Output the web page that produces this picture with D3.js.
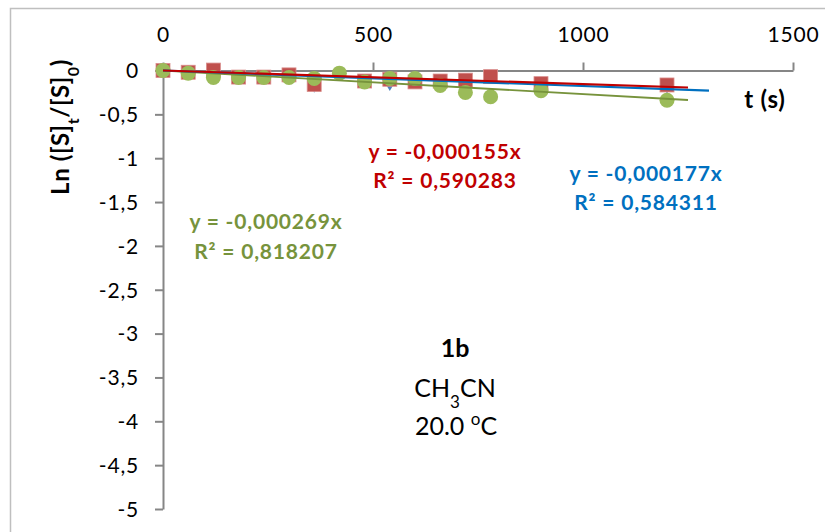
<!DOCTYPE html>
<html><head><meta charset="utf-8">
<script src="https://cdn.jsdelivr.net/npm/d3@7"></script>
<style>
body{margin:0;background:#fff;}
svg{display:block;font-family:Lato,"Open Sans",sans-serif;}
</style></head>
<body>
<script>
const times = [0,60,120,180,240,300,360,420,480,540,600,660,720,780,900,1200];
const redValues   = [0,-0.02,0.005,-0.075,-0.075,-0.05,-0.16,null,-0.12,-0.10,-0.13,-0.12,-0.11,-0.07,-0.15,-0.165];
const blueValues  = [0,-0.02,-0.03,-0.07,-0.08,-0.07,-0.19,-0.05,-0.12,-0.17,-0.12,-0.13,-0.15,-0.09,-0.16,-0.2];
const greenValues = [0,-0.03,-0.08,-0.08,-0.08,-0.08,-0.09,-0.03,-0.13,-0.09,-0.09,-0.17,-0.25,-0.30,-0.23,-0.34];
const slopes = {red:-0.000155, blue:-0.000177, green:-0.000269};
const trendEnds = {red:1250, blue:1300, green:1250};
const xTicks = [0,500,1000,1500];
const yTicks = [0,-0.5,-1,-1.5,-2,-2.5,-3,-3.5,-4,-4.5,-5];
const eqLabels = [
  {k:"red", l1:"y = -0,000155x", l2:"R² = 0,590283"},
  {k:"blue", l1:"y = -0,000177x", l2:"R² = 0,584311"},
  {k:"green", l1:"y = -0,000269x", l2:"R² = 0,818207"}
];

const W=825,H=532;
const svg=d3.select("body").append("svg").attr("width",W).attr("height",H);
const x=d3.scaleLinear().domain([0,1500]).range([163,793]);
const y=d3.scaleLinear().domain([-5,0]).range([509,70.5]);
const fmt=d=>String(d).replace(".",",");

// outer border (left/top visible)
svg.append("path").attr("d","M10.5,"+H+" L10.5,8.5 L"+W+",8.5").attr("fill","none").attr("stroke","#BFBFBF").attr("stroke-width",1.5);

const axisColor="#868686";
const gx=svg.append("g").attr("transform",`translate(0,${y(0)})`)
  .call(d3.axisTop(x).tickValues(xTicks).tickSize(8).tickPadding(21).tickFormat(d=>d).tickSizeOuter(0));
const gy=svg.append("g").attr("transform",`translate(${x(0)},0)`)
  .call(d3.axisLeft(y).tickValues(yTicks).tickSize(8).tickPadding(16).tickFormat(fmt).tickSizeOuter(0));
[gx,gy].forEach(g=>{
  g.select(".domain").attr("stroke",axisColor).attr("stroke-width",2);
  g.selectAll(".tick line").attr("stroke",axisColor).attr("stroke-width",2);
  g.selectAll(".tick text").attr("fill","#000").style("font-size","21px").style("letter-spacing","0.8px").style("font-family","Lato,sans-serif");
});
gy.selectAll(".tick text").attr("dy","0.35em");

// markers
const colors={red:"#C0504D",green:"#9BBB59",blue:"#4F81BD"};
const lineColors={red:"#C00000",blue:"#0070C0",green:"#77933C"};
const mk=(vals)=>times.map((t,i)=>({t,v:vals[i]})).filter(d=>d.v!==null);

svg.append("g").selectAll("path").data(mk(blueValues)).join("path")
  .attr("d",d3.symbol(d3.symbolDiamond,36))
  .attr("transform",d=>`translate(${x(d.t)},${y(d.v)})`).attr("fill",colors.blue);
svg.append("g").selectAll("rect").data(mk(redValues)).join("rect")
  .attr("x",d=>x(d.t)-7).attr("y",d=>y(d.v)-7).attr("width",14).attr("height",14)
  .attr("fill",colors.red).attr("stroke","#D98E8C").attr("stroke-width",0.8);
svg.append("g").selectAll("circle").data(mk(greenValues)).join("circle")
  .attr("cx",d=>x(d.t)).attr("cy",d=>y(d.v)).attr("r",7.5).attr("fill",colors.green);

// trendlines
["green","blue","red"].forEach(k=>{
  svg.append("line").attr("x1",x(0)).attr("y1",y(0))
    .attr("x2",x(trendEnds[k])).attr("y2",y(slopes[k]*trendEnds[k]))
    .attr("stroke",lineColors[k]).attr("stroke-width",k==="green"?1.8:2.2);
});

// equation labels
const eqPos={red:[445,152,181],blue:[646,174,203],green:[266,222,252]};
eqLabels.forEach(e=>{
  const p=eqPos[e.k];
  [e.l1,e.l2].forEach((s,i)=>{
    svg.append("text").attr("x",p[0]).attr("y",p[1+i]).attr("dy","0.35em")
      .attr("text-anchor","middle").attr("fill",lineColors[e.k])
      .style("font-weight","bold").style("font-size","21px").style("letter-spacing","0.8px").text(s);
  });
});

// axis titles
svg.append("text").attr("x",765).attr("y",100).attr("dy","0.35em").attr("text-anchor","middle")
  .style("font-weight","bold").style("font-size","24px").style("letter-spacing","0.8px").text("t (s)");
const yt=svg.append("text").attr("transform","translate(61,127) rotate(-90)").attr("text-anchor","middle")
  .attr("dy","0.35em").style("font-weight","bold").style("font-size","24px").style("letter-spacing","0.6px");
yt.append("tspan").text("Ln ([S]");
yt.append("tspan").attr("baseline-shift","sub").style("font-size","16px").text("t");
yt.append("tspan").text("/[S]");
yt.append("tspan").attr("baseline-shift","sub").style("font-size","16px").text("0");
yt.append("tspan").text(")");

// annotation
svg.append("text").attr("x",455).attr("y",348).attr("dy","0.35em").attr("text-anchor","middle")
  .style("font-weight","bold").style("font-size","25px").text("1b");
const ch=svg.append("text").attr("x",455).attr("y",388).attr("dy","0.35em").attr("text-anchor","middle").style("font-size","25px");
ch.append("tspan").text("CH");
ch.append("tspan").attr("baseline-shift","sub").style("font-size","17px").text("3");
ch.append("tspan").text("CN");
const tc=svg.append("text").attr("x",456).attr("y",426).attr("dy","0.35em").attr("text-anchor","middle").style("font-size","25px");
tc.append("tspan").text("20.0 ");
tc.append("tspan").attr("baseline-shift","super").style("font-size","17px").text("o");
tc.append("tspan").text("C");
</script>
</body></html>
